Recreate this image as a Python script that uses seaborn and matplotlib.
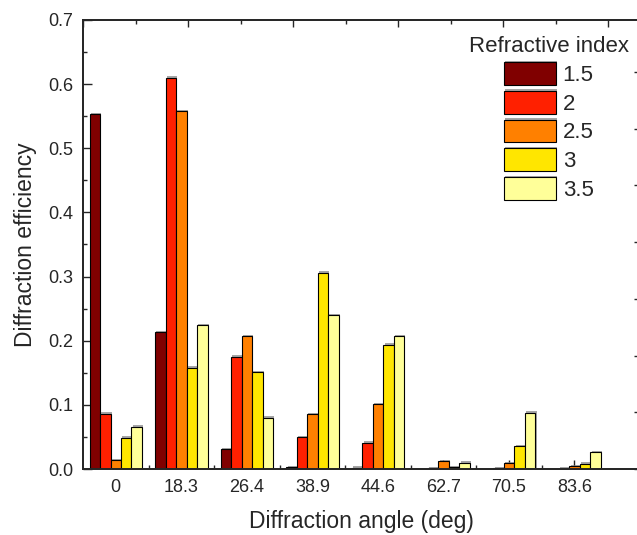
import numpy as np
import pandas as pd
import seaborn as sns
import matplotlib.pyplot as plt
from matplotlib.ticker import MultipleLocator
import matplotlib.patheffects as pe

# values
angles = ['0', '18.3', '26.4', '38.9', '44.6', '62.7', '70.5', '83.6']
n_labels = ['1.5', '2', '2.5', '3', '3.5']
eff_15 = [0.553, 0.213, 0.031, 0.003, 0.002, 0.0, 0.0, 0.0]
eff_20 = [0.086, 0.610, 0.175, 0.050, 0.041, 0.001, 0.001, 0.0005]
eff_25 = [0.014, 0.558, 0.207, 0.085, 0.101, 0.012, 0.009, 0.004]
eff_30 = [0.049, 0.158, 0.151, 0.306, 0.194, 0.003, 0.036, 0.008]
eff_35 = [0.066, 0.224, 0.080, 0.240, 0.207, 0.010, 0.088, 0.026]
colors = ['#800000', '#ff2000', '#ff8000', '#ffe600', '#ffff99']

rows = []
for n, vals in zip(n_labels, [eff_15, eff_20, eff_25, eff_30, eff_35]):
    for a, v in zip(angles, vals):
        rows.append({'angle': a, 'eff': v, 'n': n})
df = pd.DataFrame(rows)

sns.set_style('ticks')
plt.rcParams['font.family'] = ['Liberation Sans', 'DejaVu Sans']

fig = plt.figure(figsize=(6.37, 5.35), dpi=100)
ax = fig.add_axes([83/637, 66/535, 557/637, 449/535])

sns.barplot(data=df, x='angle', y='eff', hue='n', order=angles, hue_order=n_labels,
            palette=colors, saturation=1, width=0.8, edgecolor='black', linewidth=0.8,
            ax=ax)
shadow = [pe.SimplePatchShadow(offset=(1, 1), shadow_rgbFace='gray', alpha=0.7), pe.Normal()]
for p in ax.patches:
    p.set_path_effects(shadow)

ax.set_xlim(-0.5, 8.0)
ax.set_ylim(0, 0.7)
ax.yaxis.set_major_locator(MultipleLocator(0.1))
ax.yaxis.set_minor_locator(MultipleLocator(0.05))
ax.yaxis.set_major_formatter(plt.FormatStrFormatter('%.1f'))
ax.set_xticks(range(len(angles)))
ax.set_xticks(np.arange(0.5, len(angles) - 1, 1.0), minor=True)
ax.tick_params(axis='both', which='major', direction='in', length=6.5, width=1,
               labelsize=13, pad=7)
ax.tick_params(axis='both', which='minor', direction='in', length=3, width=1)
ax.set_xlabel('Diffraction angle (deg)', fontsize=16.5, labelpad=10)
ax.set_ylabel('Diffraction efficiency', fontsize=16.5, labelpad=8)
for s in ax.spines.values():
    s.set_linewidth(1.1)

# secondary tick rows on top and right
axt = ax.twiny()
axt.set_xlim(0, 557 / 52.5)
axt.xaxis.set_major_locator(MultipleLocator(2))
axt.xaxis.set_minor_locator(MultipleLocator(1))
axt.tick_params(axis='x', which='major', direction='in', length=5, width=1, labeltop=False)
axt.tick_params(axis='x', which='minor', direction='in', length=3, width=1)
axr = ax.twinx()
axr.set_ylim(0, 449 / 56.7)
axr.yaxis.set_major_locator(MultipleLocator(1))
axr.tick_params(axis='y', which='major', direction='in', length=4, width=1, labelright=False)
for a in (axt, axr):
    for s in a.spines.values():
        s.set_linewidth(1.1)

handles, labels = ax.get_legend_handles_labels()
ax.legend_.remove()
leg = axr.legend(handles, labels, title='Refractive index', fontsize=16, title_fontsize=16,
                 frameon=False, handlelength=2.34, handleheight=1.2, labelspacing=0.22,
                 handletextpad=0.3, borderpad=0.0, loc='upper right',
                 bbox_to_anchor=(640/637, 1 - 25/535), bbox_transform=fig.transFigure)

fig.savefig('out.png', dpi=100)
